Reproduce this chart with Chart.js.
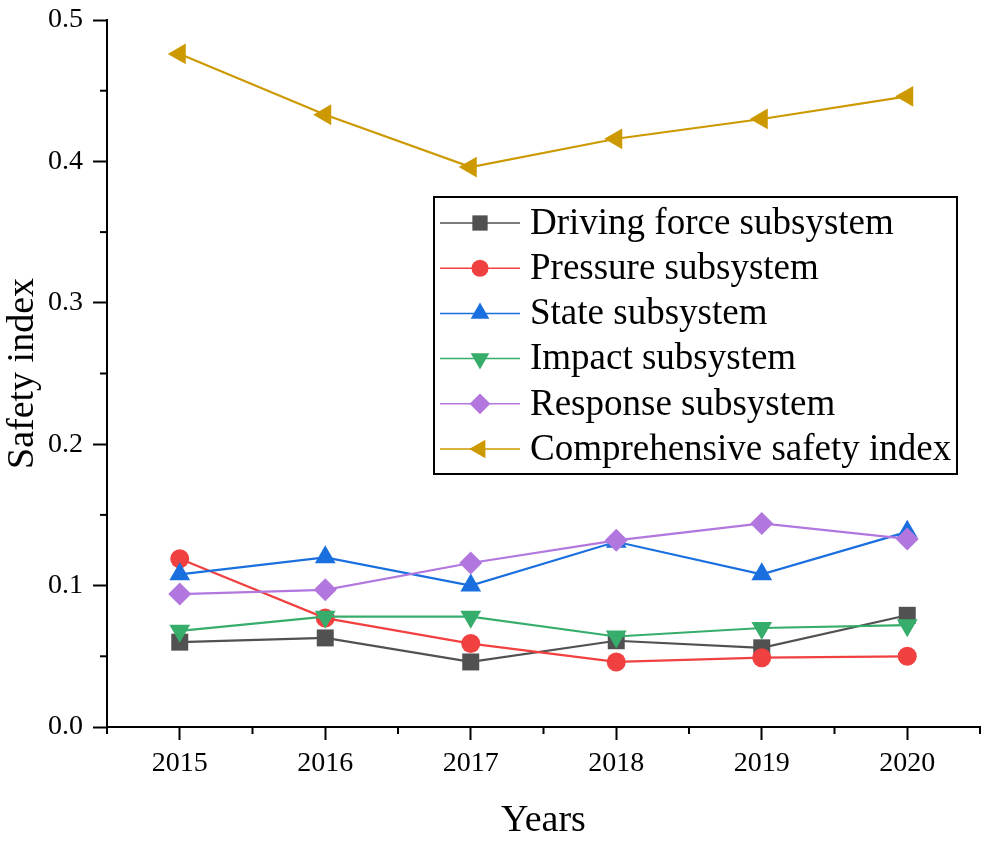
<!DOCTYPE html>
<html>
<head>
<meta charset="utf-8">
<title>Safety index by subsystem</title>
<script src="https://cdn.jsdelivr.net/npm/chart.js@4.4.1/dist/chart.umd.min.js"></script>
<style>
  html, body { margin:0; padding:0; background:#fff; }
  #wrap { width:983px; height:842px; }
</style>
</head>
<body>
<div id="wrap"><canvas id="chart" width="983" height="842"></canvas></div>
<script>
// data
const years = [2015, 2016, 2017, 2018, 2019, 2020];
const drivingForce  = [0.060, 0.063, 0.046, 0.061, 0.056, 0.079];
const pressure      = [0.119, 0.077, 0.059, 0.046, 0.049, 0.050];
const stateSub      = [0.108, 0.120, 0.100, 0.131, 0.108, 0.138];
const impact        = [0.068, 0.078, 0.078, 0.064, 0.070, 0.072];
const response      = [0.094, 0.097, 0.116, 0.132, 0.144, 0.133];
const comprehensive = [0.476, 0.433, 0.396, 0.416, 0.430, 0.446];

const seriesNames = ['Driving force subsystem', 'Pressure subsystem', 'State subsystem',
                     'Impact subsystem', 'Response subsystem', 'Comprehensive safety index'];
const yTicks = [0, 0.1, 0.2, 0.3, 0.4, 0.5];
const yMinor = [0.05, 0.15, 0.25, 0.35, 0.45];
const xMinor = [2014.5, 2015.5, 2016.5, 2017.5, 2018.5, 2019.5, 2020.5];

const FONT = "'Liberation Serif', 'Times New Roman', serif";

// Origin-like palette + marker shapes
const styles = [
  { color:'#515151', shape:'square', r:12 },
  { color:'#F14040', shape:'circle', r:9.5 },
  { color:'#1A6FDF', shape:'up',     r:12 },
  { color:'#37AD6B', shape:'down',   r:12 },
  { color:'#B177DE', shape:'diamond',r:11.5 },
  { color:'#CC9900', shape:'left',   r:12 },
];
const pointStyleMap = {
  square:  ['rect', 0],
  circle:  ['circle', 0],
  up:      ['triangle', 0],
  down:    ['triangle', 180],
  diamond: ['rectRot', 0],
  left:    ['triangle', -90],
};

const allSeries = [drivingForce, pressure, stateSub, impact, response, comprehensive];

const datasets = allSeries.map((vals, i) => {
  const st = styles[i];
  const ps = pointStyleMap[st.shape];
  return {
    label: seriesNames[i],
    data: years.map((y, j) => ({ x: y, y: vals[j] })),
    borderColor: st.color,
    backgroundColor: st.color,
    borderWidth: 2.2,
    pointStyle: ps[0],
    rotation: ps[1],
    pointRadius: st.r,
    pointBorderWidth: 0,
    pointBackgroundColor: st.color,
    tension: 0,
    order: allSeries.length - i,
    clip: false
  };
});

function marker(ctx, shape, x, y, r, color) {
  ctx.save();
  ctx.fillStyle = color;
  ctx.beginPath();
  if (shape === 'square') {
    const s = r * Math.SQRT1_2;
    ctx.rect(x - s, y - s, 2*s, 2*s);
  } else if (shape === 'circle') {
    ctx.arc(x, y, r, 0, Math.PI*2);
  } else if (shape === 'diamond') {
    ctx.moveTo(x, y - r); ctx.lineTo(x + r, y); ctx.lineTo(x, y + r); ctx.lineTo(x - r, y);
  } else {
    const rot = { up:0, down:Math.PI, left:-Math.PI/2 }[shape];
    for (let k = 0; k < 3; k++) {
      const a = rot + k * 2*Math.PI/3;
      const px = x + Math.sin(a) * r, py = y - Math.cos(a) * r;
      k ? ctx.lineTo(px, py) : ctx.moveTo(px, py);
    }
  }
  ctx.closePath();
  ctx.fill();
  ctx.restore();
}

const extras = {
  id: 'extras',
  afterDraw(chart) {
    const ctx = chart.ctx;
    const xs = chart.scales.x, ys = chart.scales.y;
    ctx.save();
    ctx.strokeStyle = '#000';
    ctx.lineWidth = 2;
    // minor ticks
    xMinor.forEach(v => {
      const px = xs.getPixelForValue(v);
      ctx.beginPath(); ctx.moveTo(px, xs.top); ctx.lineTo(px, xs.top + 7); ctx.stroke();
    });
    yMinor.forEach(v => {
      const py = ys.getPixelForValue(v);
      ctx.beginPath(); ctx.moveTo(ys.right, py); ctx.lineTo(ys.right - 7, py); ctx.stroke();
    });

    // legend box
    const bx = 434, by = 197, bw = 523, bh = 277;
    ctx.lineWidth = 2;
    ctx.strokeRect(bx, by, bw, bh);
    ctx.font = '37px ' + FONT;
    ctx.textBaseline = 'middle';
    seriesNames.forEach((name, i) => {
      const cy = by + 26 + i * 45.2;
      const st = styles[i];
      ctx.strokeStyle = st.color;
      ctx.lineWidth = 1.5;
      ctx.beginPath(); ctx.moveTo(bx + 6, cy); ctx.lineTo(bx + 86, cy); ctx.stroke();
      marker(ctx, st.shape, bx + 46, cy, st.r * 0.9, st.color);
      ctx.fillStyle = '#000';
      ctx.fillText(name, bx + 96, cy + 1);
    });
    ctx.restore();
  }
};

function zeroPad(s) {
  s.paddingTop = 0; s.paddingBottom = 0; s.paddingLeft = 0; s.paddingRight = 0;
}

new Chart(document.getElementById('chart'), {
  type: 'line',
  data: { datasets },
  plugins: [extras],
  options: {
    responsive: false,
    animation: false,
    devicePixelRatio: 1,
    layout: { autoPadding: false, padding: { top: 20, right: 3, left: 0, bottom: 0 } },
    plugins: { legend: { display: false }, tooltip: { enabled: false } },
    scales: {
      x: {
        type: 'linear',
        min: 2014.5,
        max: 2020.5,
        afterBuildTicks: s => { s.ticks = years.map(v => ({ value: v })); },
        afterFit: s => { s.height = 115; zeroPad(s); },
        ticks: {
          callback: v => String(v),
          color: '#000',
          font: { family: FONT, size: 28 },
          padding: 7,
          maxRotation: 0
        },
        grid: { drawOnChartArea: false, drawTicks: true, tickLength: 13, tickWidth: 2, tickColor: '#000' },
        border: { display: true, color: '#000', width: 2 },
        title: {
          display: true, text: 'Years', color: '#000',
          font: { family: FONT, size: 38, lineHeight: 1.1 },
          padding: { top: 0, bottom: 0 }
        }
      },
      y: {
        min: 0,
        max: 0.5,
        afterBuildTicks: s => { s.ticks = yTicks.map(v => ({ value: v })); },
        afterFit: s => { s.width = 107; zeroPad(s); },
        ticks: {
          callback: v => v.toFixed(1),
          color: '#000',
          font: { family: FONT, size: 28 },
          padding: 10
        },
        grid: { drawOnChartArea: false, drawTicks: true, tickLength: 14, tickWidth: 2, tickColor: '#000' },
        border: { display: true, color: '#000', width: 2 },
        title: {
          display: true, text: 'Safety index', color: '#000',
          font: { family: FONT, size: 38 },
          padding: { top: 0, bottom: 2 }
        }
      }
    }
  }
});
</script>
</body>
</html>
